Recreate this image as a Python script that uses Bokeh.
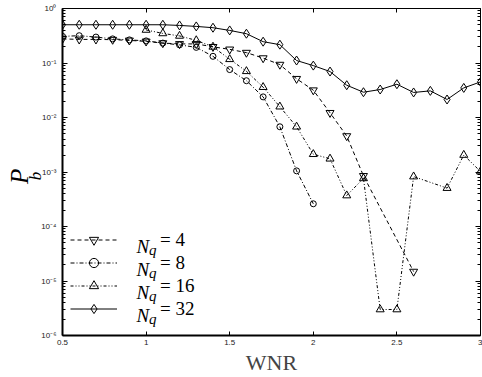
import math
from bokeh.plotting import figure
from bokeh.models import (Range1d, FixedTicker, LinearAxis, LogAxis, CustomJSTickFormatter,
                          Legend, LegendItem, Label)
from bokeh.embed import file_html
from bokeh.resources import INLINE

# ---- data ----
wnr_4 = [0.5, 0.6, 0.7, 0.8, 0.9, 1.0, 1.1, 1.2, 1.3, 1.4, 1.5, 1.6, 1.7, 1.8, 1.9,
         2.0, 2.1, 2.2, 2.3, 2.6]
pb_4 = [0.277, 0.271, 0.271, 0.268, 0.260, 0.249, 0.232, 0.224, 0.224, 0.198, 0.178,
        0.155, 0.123, 0.0935, 0.0514, 0.0317, 0.0122, 0.00457, 0.00085, 1.49e-5]

wnr_8 = [0.5, 0.6, 0.7, 0.8, 0.9, 1.0, 1.1, 1.2, 1.3, 1.4, 1.5, 1.6, 1.7, 1.8, 1.9, 2.0]
pb_8 = [0.308, 0.317, 0.299, 0.277, 0.2655, 0.2546, 0.232, 0.215, 0.1936, 0.1326,
        0.0757, 0.0473, 0.0239, 0.00676, 0.00105, 0.000261]

wnr_16 = [1.0, 1.1, 1.2, 1.3, 1.4, 1.5, 1.6, 1.7, 1.8, 1.9, 2.0, 2.1, 2.2, 2.3, 2.4,
          2.5, 2.6, 2.8, 2.9, 3.0]
pb_16 = [0.404, 0.349, 0.314, 0.260, 0.198, 0.117, 0.0705, 0.0360, 0.0158, 0.00676,
         0.00212, 0.00175, 0.000370, 0.000764, 3.0e-6, 3.0e-6, 0.000824, 0.000506,
         0.00205, 0.00102]

wnr_32 = [0.5, 0.6, 0.7, 0.8, 0.9, 1.0, 1.1, 1.2, 1.3, 1.4, 1.5, 1.6, 1.7, 1.8, 1.9,
          2.0, 2.1, 2.2, 2.3, 2.4, 2.5, 2.6, 2.7, 2.8, 2.9, 3.0]
pb_32 = [0.503, 0.503, 0.503, 0.503, 0.503, 0.503, 0.503, 0.489, 0.469, 0.444, 0.396,
         0.345, 0.246, 0.217, 0.111, 0.0896, 0.0697, 0.0391, 0.0291, 0.0326, 0.0408,
         0.0288, 0.0308, 0.0214, 0.0349, 0.0450]

series_labels = ["= 4", "= 8", "= 16", "= 32"]
x_ticks = [0.5, 1.0, 1.5, 2.0, 2.5, 3.0]
y_ticks = [1e-6, 1e-5, 1e-4, 1e-3, 1e-2, 1e-1, 1.0]
y_minor = [m * 10.0 ** e for e in range(-6, 0) for m in range(2, 10)]
# where the two parts of the y-axis title "P_b" sit along the axis
ylab_b_at = [8.45e-4]
ylab_p_at = [8.35e-4]

# ---- figure ----
p = figure(width=482, height=377, y_axis_type="log",
           x_range=Range1d(0.5, 3.0), y_range=Range1d(1e-6, 1.0),
           output_backend="svg", toolbar_location=None,
           min_border_left=62, min_border_right=2, min_border_top=8, min_border_bottom=41)
p.grid.visible = False
p.outline_line_color = None
p.background_fill_color = "white"
p.border_fill_color = "white"

sup_js = """
const sup = {"0":"\u2070","1":"\u00b9","2":"\u00b2","3":"\u00b3","4":"\u2074",
             "5":"\u2075","6":"\u2076","-":"\u207b"};
const e = Math.round(Math.log10(tick));
return "10" + String(e).split("").map(c => sup[c]).join("");
"""

def style_axis(ax, width):
    ax.axis_line_width = width
    ax.axis_line_color = "black"
    ax.major_tick_in = 5
    ax.major_tick_out = 0
    ax.minor_tick_in = 3
    ax.minor_tick_out = 0
    ax.major_tick_line_color = "black"
    ax.minor_tick_line_color = "black"
    ax.major_label_text_font = "Liberation Sans"
    ax.major_label_text_font_size = "8px"
    ax.major_label_text_color = "#222222"

# left axis
yax = p.yaxis[0]
yax.ticker = FixedTicker(ticks=y_ticks, minor_ticks=y_minor)
yax.formatter = CustomJSTickFormatter(code=sup_js)
style_axis(yax, 2)
yax.major_label_standoff = 6

# bottom axis
xax = p.xaxis[0]
xax.ticker = FixedTicker(ticks=x_ticks)
xax.formatter = CustomJSTickFormatter(code="return tick.toString();")
style_axis(xax, 2)
xax.major_tick_in = 4
xax.minor_tick_line_color = None
xax.major_label_standoff = 4
xax.axis_label = "WNR"
xax.axis_label_text_font = "Liberation Serif"
xax.axis_label_text_font_style = "normal"
xax.axis_label_text_font_size = "22px"
xax.axis_label_standoff = 2

# top / right mirror axes
top = LinearAxis(ticker=FixedTicker(ticks=x_ticks),
                 formatter=CustomJSTickFormatter(code="return '';"))
style_axis(top, 1)
top.major_tick_in = 4
top.minor_tick_line_color = None
top.major_label_standoff = 0
p.add_layout(top, "above")

right = LogAxis(ticker=FixedTicker(ticks=y_ticks, minor_ticks=y_minor),
                formatter=CustomJSTickFormatter(code="return '';"))
style_axis(right, 1)
right.major_label_standoff = 0
p.add_layout(right, "right")

# y-axis title "P_b": two bare axes whose single tick label is the text part
def title_axis(at, txt, size, standoff):
    ax = LogAxis(ticker=FixedTicker(ticks=at),
                 formatter=CustomJSTickFormatter(code="return '%s';" % txt))
    ax.axis_line_color = None
    ax.major_tick_line_color = None
    ax.minor_tick_line_color = None
    ax.major_label_orientation = "vertical"
    ax.major_label_text_font = "Liberation Serif"
    ax.major_label_text_font_style = "italic"
    ax.major_label_text_font_size = size
    ax.major_label_text_color = "black"
    ax.major_label_standoff = standoff
    return ax

p.add_layout(title_axis(ylab_b_at, "b", "17px", -13), "left")
p.add_layout(title_axis(ylab_p_at, "P", "25px", -16), "left")

# ---- series ----
specs = [
    (wnr_4, pb_4, "4 3", "inverted_triangle", 8),
    (wnr_8, pb_8, "4 2 1 2", "circle", 6),
    (wnr_16, pb_16, "3 2 1 2 1 2", "triangle", 8),
    (wnr_32, pb_32, "solid", "diamond", 9),
]
items = []
for (xs, ys, dash, marker, size), lab in zip(specs, series_labels):
    lr = p.line(xs, ys, line_color="black", line_width=1, line_dash=dash)
    sr = p.scatter(xs, ys, marker=marker, size=size, line_color="black",
                   line_width=1, fill_color=None)
    items.append(LegendItem(label=lab, renderers=[lr, sr]))

legend = Legend(items=items, location=(8, 15), orientation="vertical",
                glyph_width=47, glyph_height=23, label_height=23, label_standoff=43,
                padding=0, margin=0, spacing=0,
                border_line_color=None, background_fill_alpha=0,
                label_text_font="Liberation Serif", label_text_font_size="19px",
                label_text_color="black")
p.add_layout(legend, "center")

# "N_q" parts of the legend labels
for i in range(4):
    p.add_layout(Label(x=74, y=89.5 - 23 * i, x_units="screen", y_units="screen",
                       text="N", text_font="Liberation Serif", text_font_style="italic",
                       text_font_size="19px", text_color="black",
                       text_align="left", text_baseline="alphabetic"))
    p.add_layout(Label(x=86.5, y=85.5 - 23 * i, x_units="screen", y_units="screen",
                       text="q", text_font="Liberation Serif", text_font_style="italic",
                       text_font_size="15px", text_color="black",
                       text_align="left", text_baseline="alphabetic"))

open("out.html", "w").write(file_html(p, INLINE))
